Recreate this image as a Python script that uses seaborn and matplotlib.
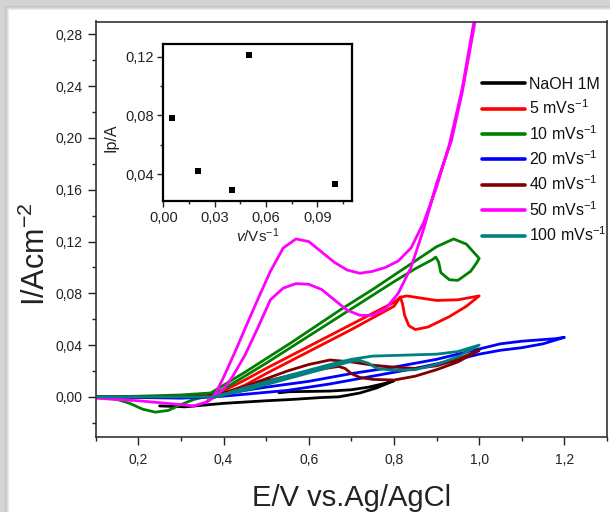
import numpy as np
import pandas as pd
import matplotlib
matplotlib.use("Agg")
import matplotlib.pyplot as plt
from matplotlib.patches import Rectangle
from matplotlib.ticker import MultipleLocator, FuncFormatter
import seaborn as sns

sns.set_theme(style="white")
plt.rcParams['font.family'] = ['Liberation Sans', 'DejaVu Sans']
plt.rcParams['mathtext.fontset'] = 'custom'
plt.rcParams['mathtext.rm'] = 'Liberation Sans'
plt.rcParams['mathtext.it'] = 'Liberation Sans:italic'

# ---------------- data ----------------
naoh_E = [0.25, 0.31, 0.40, 0.50, 0.56, 0.63, 0.67, 0.72, 0.76, 0.80,
          0.78, 0.74, 0.70, 0.65, 0.60, 0.555, 0.53]
naoh_I = [-0.007, -0.0077, -0.005, -0.003, -0.002, -0.0005, 0.0, 0.003, 0.007, 0.0125,
          0.0105, 0.0075, 0.0055, 0.0045, 0.0042, 0.0040, 0.0032]

r5_E = [0.10, 0.20, 0.30, 0.36, 0.39, 0.45, 0.50, 0.60, 0.70, 0.80, 0.815, 0.83, 0.85,
        0.90, 0.95, 1.00,
        0.97, 0.93, 0.88, 0.85, 0.835, 0.825, 0.82, 0.815, 0.80, 0.70, 0.60, 0.50,
        0.45, 0.39, 0.36]
r5_I = [0.0, 0.0, 0.0, 0.0, 0.003, 0.013, 0.022, 0.039, 0.056, 0.073, 0.077, 0.078, 0.077,
        0.0745, 0.075, 0.078,
        0.070, 0.062, 0.054, 0.052, 0.055, 0.063, 0.072, 0.077, 0.070, 0.052, 0.035,
        0.018, 0.009, 0.001, 0.0]

g10_E = [0.10, 0.20, 0.30, 0.37, 0.45, 0.557, 0.673, 0.75, 0.80, 0.85, 0.90, 0.94,
         0.97, 1.00,
         0.995, 0.98, 0.95, 0.93, 0.91, 0.905, 0.898, 0.89, 0.85, 0.80, 0.70, 0.60,
         0.50, 0.40, 0.37, 0.33, 0.30, 0.27, 0.24, 0.21, 0.18, 0.15, 0.10]
g10_I = [0.0, 0.0005, 0.0015, 0.003, 0.019, 0.0415, 0.067, 0.083, 0.094, 0.105, 0.116,
         0.122, 0.118, 0.107,
         0.104, 0.097, 0.090, 0.0905, 0.096, 0.104, 0.108, 0.106, 0.099, 0.089, 0.068,
         0.047, 0.026, 0.006, 0.001, -0.002, -0.006, -0.0105, -0.0118, -0.0095,
         -0.005, -0.002, 0.0]

b20_E = [0.10, 0.30, 0.38, 0.45, 0.55, 0.65, 0.75, 0.85, 0.95, 1.00, 1.05, 1.10, 1.15,
         1.20,
         1.18, 1.10, 1.05, 1.00, 0.90, 0.80, 0.70, 0.60, 0.50, 0.40, 0.35]
b20_I = [0.0, -0.001, 0.0, 0.002, 0.005, 0.010, 0.016, 0.022, 0.029, 0.033, 0.036,
         0.038, 0.041, 0.046,
         0.045, 0.043, 0.041, 0.037, 0.029, 0.023, 0.018, 0.012, 0.0075, 0.0025, 0.0]

d40_E = [0.10, 0.30, 0.38, 0.45, 0.50, 0.55, 0.60, 0.65, 0.70, 0.75, 0.80, 0.85,
         0.90, 0.95, 1.00,
         0.95, 0.90, 0.85, 0.80, 0.75, 0.72, 0.70, 0.685, 0.67, 0.60, 0.50, 0.40, 0.35]
d40_I = [0.0, 0.0, 0.001, 0.008, 0.014, 0.020, 0.025, 0.0285, 0.027, 0.0245, 0.023,
         0.022, 0.024, 0.029, 0.036,
         0.027, 0.021, 0.016, 0.013, 0.0135, 0.015, 0.018, 0.022, 0.0235, 0.020,
         0.012, 0.002, 0.0]

m50_E = [0.10, 0.20, 0.30, 0.33, 0.36, 0.38, 0.40, 0.43, 0.46, 0.48, 0.51, 0.54,
         0.57, 0.60, 0.63, 0.66, 0.69, 0.72, 0.75, 0.78, 0.81, 0.84, 0.87, 0.90,
         0.93, 0.96, 0.985, 1.00,
         0.985, 0.96, 0.935, 0.90, 0.87, 0.84, 0.81, 0.78, 0.75, 0.72, 0.69, 0.66,
         0.63, 0.60, 0.57, 0.54, 0.51, 0.48, 0.45, 0.42, 0.40, 0.38, 0.36]
m50_I = [-0.001, -0.003, -0.006, -0.007, -0.004, 0.002, 0.015, 0.037, 0.060, 0.075,
         0.097, 0.115, 0.122, 0.120, 0.112, 0.104, 0.098, 0.0955, 0.097, 0.100,
         0.105, 0.115, 0.135, 0.162, 0.195, 0.238, 0.285, 0.31,
         0.28, 0.235, 0.198, 0.165, 0.130, 0.100, 0.080, 0.068, 0.063, 0.063,
         0.067, 0.075, 0.083, 0.087, 0.0875, 0.084, 0.075, 0.053, 0.032, 0.015,
         0.006, 0.0, -0.004]

t100_E = [0.10, 0.20, 0.30, 0.38, 0.45, 0.557, 0.65, 0.70, 0.75, 0.82, 0.90, 0.95,
          1.00,
          0.95, 0.90, 0.85, 0.80, 0.76, 0.74, 0.72, 0.70, 0.65, 0.55, 0.45, 0.38]
t100_I = [0.0, 0.0, 0.0, 0.0, 0.007, 0.0168, 0.025, 0.029, 0.0315, 0.0322, 0.033,
          0.035, 0.040,
          0.031, 0.025, 0.021, 0.0205, 0.022, 0.026, 0.028, 0.0275, 0.023, 0.014,
          0.005, 0.0]

series_labels = ["NaOH 1M", r"5 mVs$^{-1}$", r"10 mVs$^{-1}$", r"20 mVs$^{-1}$",
                 r"40 mVs$^{-1}$", r"50 mVs$^{-1}$", r"100 mVs$^{-1}$"]
series_colors = ["#000000", "#ff0000", "#008000", "#0000ff", "#800000", "#ff00ff", "#008080"]

inset_v = [0.005, 0.02, 0.04, 0.05, 0.10]
inset_ip = [0.078, 0.042, 0.029, 0.121, 0.033]

series_E = [naoh_E, r5_E, g10_E, b20_E, d40_E, m50_E, t100_E]
series_I = [naoh_I, r5_I, g10_I, b20_I, d40_I, m50_I, t100_I]

# ---------------- figure ----------------
W, H = 610, 512
fig = plt.figure(figsize=(W / 100, H / 100), dpi=100)
fig.patch.set_facecolor("white")
# shadowed frame
fig.patches.append(Rectangle((0, 0), 1, 1, transform=fig.transFigure,
                             facecolor="#d4d4d4", edgecolor="none", zorder=-10))
for i, c in enumerate(["#c4c4c4", "#cfcfcf", "#dddddd", "#ebebeb"]):
    fig.patches.append(Rectangle(((5 + i) / W, 0), 1, 1 - (6 + i) / H,
                                 transform=fig.transFigure, facecolor=c,
                                 edgecolor="none", zorder=-9 + i))
fig.patches.append(Rectangle((9 / W, 0), 1, 1 - 10 / H, transform=fig.transFigure,
                             facecolor="white", edgecolor="none", zorder=-4))

ax = fig.add_axes([95.7 / W, 1 - 437 / H, (607 - 95.7) / W, (437 - 21.5) / H])
ax.set_facecolor("white")
for E, I, lab, col in zip(series_E, series_I, series_labels, series_colors):
    df = pd.DataFrame({"E": E, "I": I})
    sns.lineplot(data=df, x="E", y="I", sort=False, estimator=None, color=col,
                 lw=2.0, label=lab, ax=ax)

ax.set_xlim(0.1, 1.3)
ax.set_ylim(-0.031, 0.29)
comma = lambda fmt: FuncFormatter(lambda v, p: (fmt % v).replace(".", ","))
ax.xaxis.set_major_locator(MultipleLocator(0.2))
ax.xaxis.set_minor_locator(MultipleLocator(0.1))
ax.yaxis.set_major_locator(MultipleLocator(0.04))
ax.yaxis.set_minor_locator(MultipleLocator(0.02))
ax.xaxis.set_major_formatter(comma("%.1f"))
ax.yaxis.set_major_formatter(comma("%.2f"))
ax.tick_params(which="both", direction="out", bottom=True, left=True, top=False,
               right=False, colors="#222222", labelcolor="#222222")
ax.tick_params(which="major", length=5.5, width=1.0, labelsize=10, pad=4)
ax.tick_params(which="minor", length=3.2, width=1.0)
ax.tick_params(axis="x", which="major", pad=6)
for s in ax.spines.values():
    s.set_visible(True)
    s.set_color("#333333")
    s.set_linewidth(1.2)

ax.set_xlabel("E/V vs.Ag/AgCl", fontsize=21, color="#222222")
ax.set_ylabel(r"I/Acm$^{-2}$", fontsize=22, color="#222222")
ax.xaxis.set_label_coords(0.5, -0.113)
ax.yaxis.set_label_coords(-0.085, 0.44)

leg = ax.legend(loc="upper left", bbox_to_anchor=(0.755, 0.867), frameon=False,
                borderpad=0, borderaxespad=0, handlelength=2.7, handletextpad=0.25,
                labelspacing=0.42, fontsize=11.5)
for t in leg.get_texts():
    t.set_color("#111111")
for h in leg.get_lines():
    h.set_linewidth(2.6)

# ---------------- inset ----------------
axi = fig.add_axes([163.3 / W, 1 - 201 / H, (351.7 - 163.3) / W, (201 - 44) / H])
axi.set_facecolor("white")
sns.scatterplot(x=inset_v, y=inset_ip, marker="s", s=24, color="black",
                linewidth=0, ax=axi)
axi.set_xlim(0.0, 0.11)
axi.set_ylim(0.0216, 0.1287)
axi.xaxis.set_major_locator(MultipleLocator(0.03))
axi.xaxis.set_minor_locator(MultipleLocator(0.015))
axi.yaxis.set_major_locator(MultipleLocator(0.04))
axi.yaxis.set_minor_locator(MultipleLocator(0.02))
axi.xaxis.set_major_formatter(comma("%.2f"))
axi.yaxis.set_major_formatter(comma("%.2f"))
axi.tick_params(which="both", direction="out", bottom=True, left=True, top=False,
                right=False, colors="#222222", labelcolor="#222222")
axi.tick_params(which="major", length=4, width=1.0, labelsize=10.5, pad=3)
axi.tick_params(which="minor", length=2.5, width=1.0)
for s in axi.spines.values():
    s.set_visible(True)
    s.set_color("black")
    s.set_linewidth(1.6)
axi.set_xlabel(r"$v$/Vs$^{-1}$", fontsize=11, color="#222222", labelpad=1)
axi.set_ylabel("Ip/A", fontsize=11.5, color="#222222")
axi.yaxis.set_label_coords(-0.24, 0.40)

fig.savefig("out.png", dpi=100)
